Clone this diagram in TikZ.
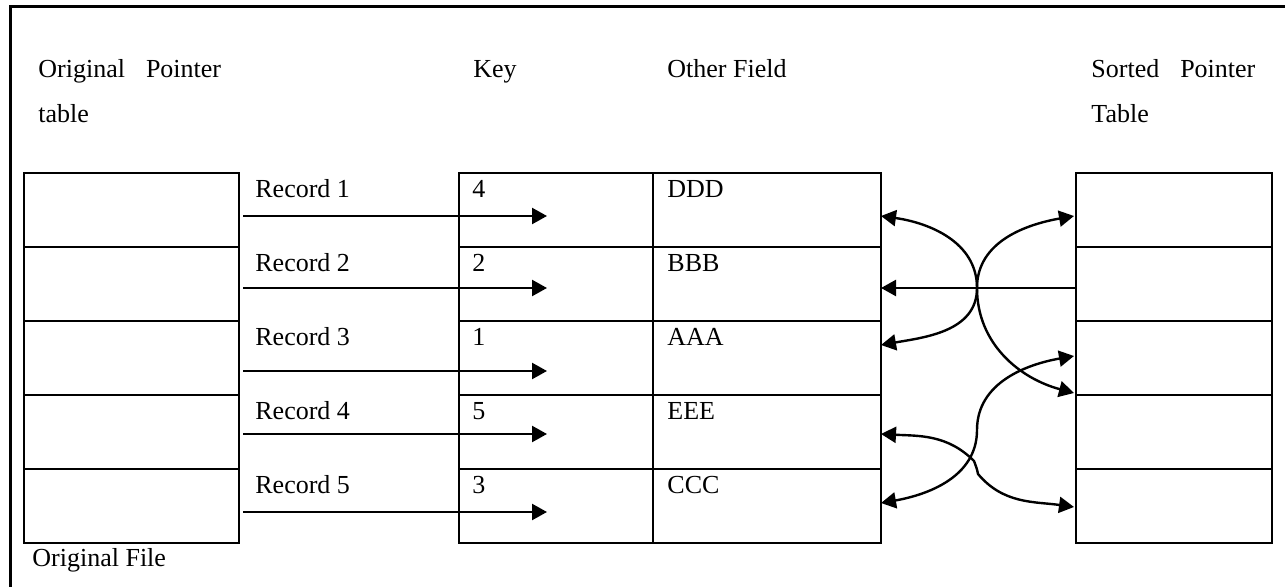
\documentclass[tikz,border=0pt]{standalone}
\usepackage{fontspec}
\setmainfont{Liberation Serif}
\usetikzlibrary{arrows.meta}
\begin{document}
\begin{tikzpicture}[x=0.5pt,y=-0.5pt,
  cell/.style={draw, line width=1.3pt, anchor=north west, minimum height=37pt, inner sep=0pt, outer sep=0pt},
  lbl/.style={anchor=base west, inner sep=0pt, font=\fontsize{13}{15}\selectfont},
  tip/.tip={Triangle[length=7.5pt,width=8pt]},
  ptr/.style={line width=1.2pt, -tip},
  link/.style={line width=1.2pt, tip-tip},
  back/.style={line width=1.2pt, tip-},
  frame/.style={line width=1.5pt}
]
\useasboundingbox (0,0) rectangle (1285,587);
% outer frame (left and top edges)
\coordinate (fb) at (10,587);
\coordinate (fc) at (10,7);
\coordinate (fr) at (1285,7);
\draw[frame] (fb) -- (fc) -- (fr);

% headings
\node[lbl] (h1) at (38,78) {Original\hspace{10.5pt}Pointer};
\node[lbl] (h1b) at (38,123) {table};
\node[lbl] (h2) at (473,78) {Key};
\node[lbl] (h3) at (667,78) {Other Field};
\node[lbl] (h4) at (1091,78) {Sorted\hspace{10.5pt}Pointer};
\node[lbl] (h4b) at (1091,123) {Table};
\node[lbl] (h5) at (32,567) {Original File};

% tables
\foreach \i/\k/\o/\ay in {1/4/DDD/216, 2/2/BBB/288, 3/1/AAA/371, 4/5/EEE/434, 5/3/CCC/512}{
  \pgfmathsetmacro{\top}{173+74*(\i-1)}
  \node[cell, minimum width=107.5pt] (L\i) at (24,\top) {};
  \node[cell, minimum width=97pt] (K\i) at (459,\top) {};
  \node[cell, minimum width=114pt] (O\i) at (653,\top) {};
  \node[cell, minimum width=98pt] (S\i) at (1076,\top) {};
  \node[lbl] (R\i) at (255,\top+25) {Record \i};
  \node[lbl] (KV\i) at (472,\top+25) {\k};
  \node[lbl] (OV\i) at (667,\top+25) {\o};
  \coordinate (ps\i) at (243,\ay);
  \coordinate (pe\i) at (547,\ay);
  \draw[ptr] (ps\i) -- (pe\i);
}

% right-side links
\coordinate (o1) at (881,216);
\coordinate (o2) at (881,288);
\coordinate (o3) at (881,345);
\coordinate (o4) at (881,434);
\coordinate (o5) at (881,503);
\coordinate (s1) at (1074,216);
\coordinate (s2) at (1076,288);
\coordinate (s3) at (1074,356);
\coordinate (s4) at (1074,393);
\coordinate (s5) at (1074,507);
\coordinate (m1) at (977,288);
\coordinate (m2) at (977,430);
\coordinate (m3a) at (974,461);
\coordinate (m3b) at (978,474);

\draw[link] (o1) to[out=-8,in=90] (m1) to[out=-90,in=165] (s4);
\draw[link] (o3) to[out=10,in=-90] (m1) to[out=90,in=190] (s1);
\draw[back] (o2) -- (s2);
\draw[link] (o5) to[out=10,in=-90] (m2) to[out=90,in=190] (s3);
\draw[link] (o4) to[out=-3,in=135] (m3a) to[out=-70,in=100] (m3b) to[out=-50,in=172] (s5);
\end{tikzpicture}
\end{document}
